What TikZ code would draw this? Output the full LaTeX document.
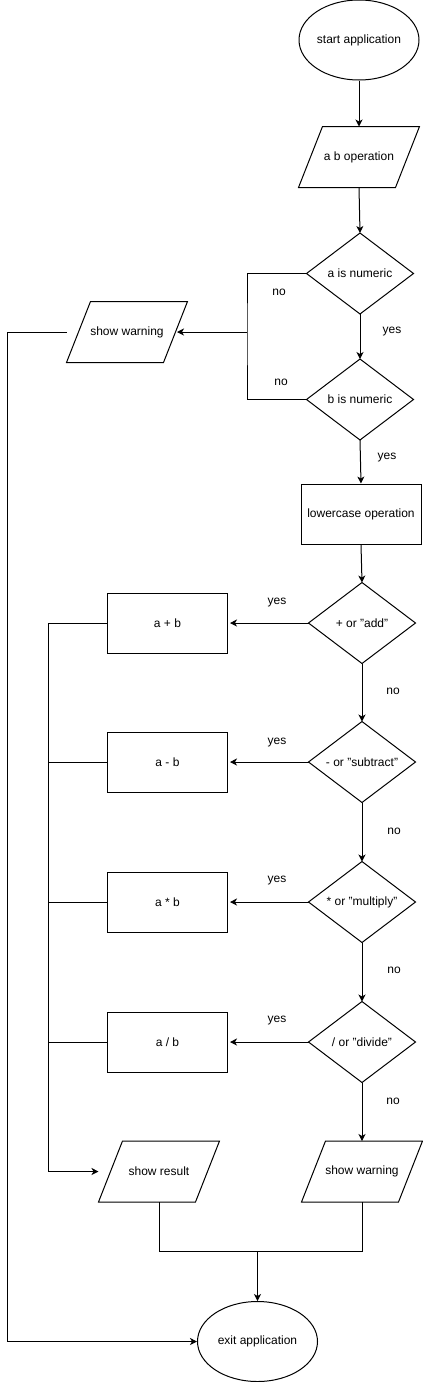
\documentclass[tikz,border=0pt]{standalone}
\usepackage{fontspec}
\setmainfont{Liberation Sans}
\usetikzlibrary{arrows.meta,shapes.geometric}
\newcommand\paraoutline[1]{\draw ([xshift=24pt]#1.north west) -- (#1.north east) -- ([xshift=-24pt]#1.south east) -- (#1.south west) -- cycle;}
\newcommand\diamondoutline[1]{\draw (#1.north) -- (#1.east) -- (#1.south) -- (#1.west) -- cycle;}
\begin{document}
\begin{tikzpicture}[x=1pt,y=-1pt,line width=1pt,font=\fontsize{12}{14}\selectfont,
  box/.style={draw,rectangle,minimum width=120pt,minimum height=60pt,inner sep=0pt},
  term/.style={draw,ellipse,minimum width=120pt,minimum height=80pt,inner sep=0pt},
  io/.style={rectangle,minimum width=120pt,minimum height=60pt,inner sep=0pt},
  dec/.style={rectangle,minimum width=106pt,minimum height=80pt,inner sep=0pt},
  arr/.style={-{Stealth[length=7pt,width=7pt,inset=2pt]}},
  lbl/.style={inner sep=0pt}]
\useasboundingbox (0,0) rectangle (423,1382);
% nodes
\node[term] (start) at (359,40) {start application};
\node[io] (abop) at (359,157) {a b operation};
\node[dec] (d1) at (360,273.5) {a is numeric};
\node[dec] (d2) at (360,399.5) {b is numeric};
\node[io] (warn1) at (127,332) {show warning};
\node[box] (low) at (361,514) {lowercase operation};
\node[dec] (d3) at (362,623) {+ or "add"};
\node[dec] (d4) at (362,762) {- or "subtract"};
\node[dec] (d5) at (362,902) {* or "multiply"};
\node[dec] (d6) at (362,1042) {/ or "divide"};
\node[box] (r1) at (167.5,623) {a + b};
\node[box] (r2) at (167.5,762) {a - b};
\node[box] (r3) at (167.5,902) {a * b};
\node[box] (r4) at (167.5,1042) {a / b};
\node[io] (res) at (159,1171.5) {show result};
\node[io] (warn2) at (362,1171.5) {show warning};
\node[term] (exit) at (257.5,1341.5) {exit application};
% outlines
\paraoutline{abop}
\paraoutline{warn1}
\paraoutline{res}
\paraoutline{warn2}
\diamondoutline{d1}
\diamondoutline{d2}
\diamondoutline{d3}
\diamondoutline{d4}
\diamondoutline{d5}
\diamondoutline{d6}
% coordinates
\coordinate (nj) at (247,332);
\coordinate (wtip) at (177,332);
\coordinate (lw) at (7,332);
\coordinate (c1) at (48,623);
\coordinate (m) at (257.5,1251);
% connectors
\draw[arr] (start.south) -- (abop.north);
\draw[arr] (abop.south) -- (d1.north);
\draw[arr] (d1.south) -- (d2.north);
\draw (d1.west) -| (nj) |- (d2.west);
\draw[arr] (nj) -- (wtip);
\draw[arr] (warn1.west) -- (lw) |- (exit.west);
\draw[arr] (d2.south) -- (low.north);
\draw[arr] (low.south) -- (d3.north);
\draw[arr] (d3.south) -- (d4.north);
\draw[arr] (d4.south) -- (d5.north);
\draw[arr] (d5.south) -- (d6.north);
\draw[arr] (d6.south) -- (warn2.north);
\draw[arr,shorten >=2pt] (d3.west) -- (r1.east);
\draw[arr,shorten >=2pt] (d4.west) -- (r2.east);
\draw[arr,shorten >=2pt] (d5.west) -- (r3.east);
\draw[arr,shorten >=2pt] (d6.west) -- (r4.east);
\draw (r1.west) -- (c1);
\draw (r2.west) -- (r2.west -| c1);
\draw (r3.west) -- (r3.west -| c1);
\draw (r4.west) -- (r4.west -| c1);
\draw[arr] (c1) |- (res.west);
\draw (res.south) |- (m) -| (warn2.south);
\draw[arr] (m) -- (exit.north);
% labels
\node[lbl] (n1) at (279,292) {no};
\node[lbl] (n2) at (281,382) {no};
\node[lbl] (y1) at (392,332) {yes};
\node[lbl] (y2) at (387,458) {yes};
\node[lbl] (y3) at (277,603) {yes};
\node[lbl] (n3) at (393,691) {no};
\node[lbl] (y4) at (277,743) {yes};
\node[lbl] (n4) at (394,831) {no};
\node[lbl] (y5) at (277,881) {yes};
\node[lbl] (n5) at (394,970) {no};
\node[lbl] (y6) at (277,1021) {yes};
\node[lbl] (n6) at (393,1101) {no};
\end{tikzpicture}
\end{document}
